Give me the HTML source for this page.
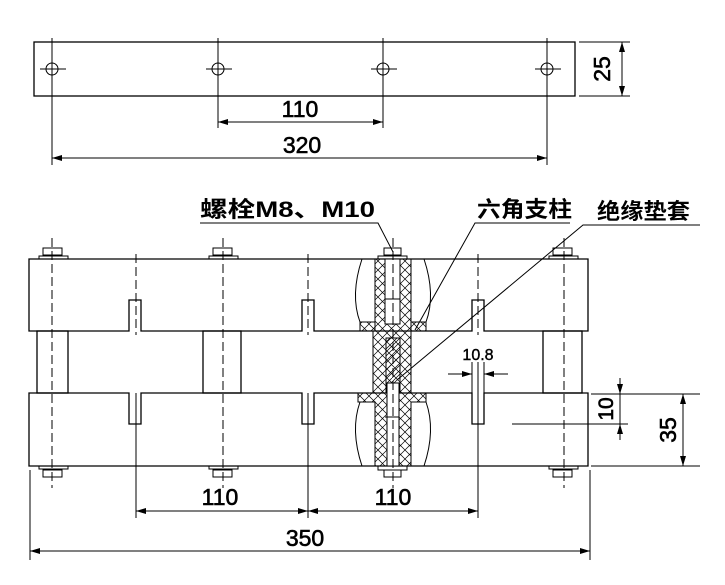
<!DOCTYPE html>
<html><head><meta charset="utf-8"><style>body{margin:0;background:#fff}svg{display:block}</style></head><body>
<svg width="725" height="585" viewBox="0 0 725 585" xmlns="http://www.w3.org/2000/svg" font-family="Liberation Sans, Noto Sans CJK SC, sans-serif">
<defs>
<pattern id="xh" width="9" height="9" patternUnits="userSpaceOnUse"><path d="M0 0L9 9M9 0L0 9" stroke="#000" stroke-width="0.7"/></pattern>
<pattern id="dh" width="7" height="7" patternUnits="userSpaceOnUse"><path d="M0 7L7 0" stroke="#000" stroke-width="0.7"/></pattern>
<marker id="a" viewBox="0 0 10 6" refX="10" refY="3" markerWidth="10" markerHeight="6" orient="auto-start-reverse" markerUnits="userSpaceOnUse"><path d="M0 0L10 3L0 6z"/></marker>
</defs>
<g stroke="#000" fill="none" stroke-width="1.3">
<rect x="34" y="42" width="541" height="54"/>
<g stroke-width="1">
<line x1="52" y1="38" x2="52" y2="165"/><line x1="218" y1="38" x2="218" y2="128"/><line x1="383" y1="38" x2="383" y2="128"/><line x1="547" y1="38" x2="547" y2="165"/>
<line x1="40" y1="69" x2="66" y2="69"/><line x1="206" y1="69" x2="232" y2="69"/><line x1="371" y1="69" x2="397" y2="69"/><line x1="535" y1="69" x2="561" y2="69"/>
<circle cx="52" cy="69" r="6"/><circle cx="218" cy="69" r="6"/><circle cx="383" cy="69" r="6"/><circle cx="547" cy="69" r="6"/>
<line x1="218" y1="122" x2="383" y2="122" marker-start="url(#a)" marker-end="url(#a)"/>
<line x1="52" y1="158" x2="547" y2="158" marker-start="url(#a)" marker-end="url(#a)"/>
<line x1="579" y1="42" x2="630" y2="42"/><line x1="579" y1="96" x2="630" y2="96"/>
<line x1="622" y1="42" x2="622" y2="96" marker-start="url(#a)" marker-end="url(#a)"/>
</g>
<path d="M29 259H588V331H484V300H472V331H314V300H302V331H141V300H129V331H29Z"/>
<path d="M29 393H129V424H141V393H302V424H314V393H472V424H484V393H588V466H29Z"/>
<rect x="37" y="331" width="31" height="62"/><rect x="203" y="331" width="38" height="62"/><rect x="543" y="331" width="39" height="62"/>
<g stroke-width="1">
<rect x="39" y="256" width="29" height="3"/><rect x="43" y="248" width="19" height="7"/>
<rect x="209" y="256" width="29" height="3"/><rect x="213" y="248" width="19" height="7"/>
<rect x="549" y="256" width="29" height="3"/><rect x="553" y="248" width="19" height="7"/>
<rect x="378" y="256" width="29" height="3"/><rect x="384" y="248" width="17" height="7"/>
<rect x="39" y="466" width="29" height="3"/><rect x="43" y="470" width="19" height="7"/>
<rect x="209" y="466" width="29" height="3"/><rect x="213" y="470" width="19" height="7"/>
<rect x="549" y="466" width="29" height="3"/><rect x="553" y="470" width="19" height="7"/>
<rect x="378" y="466" width="29" height="4"/><rect x="384" y="470" width="17" height="7"/>
</g>
<g stroke-width="1">
<path d="M362 259Q350 295 360 322" /><path d="M424 259Q436 295 426 322"/>
<path d="M362 466Q350 430 360 402"/><path d="M424 466Q436 430 426 402"/>
<path d="M360 322H375V331H360Z" fill="url(#xh)"/><path d="M411 322H426V331H411Z" fill="url(#xh)"/>
<path d="M358 393H426V402H411V466H375V402H358Z" fill="url(#xh)"/>
<rect x="375" y="259" width="36" height="72" fill="url(#xh)"/>
<rect x="373" y="331" width="38" height="62" fill="url(#xh)"/>
<rect x="386" y="338" width="14" height="55" fill="url(#dh)"/>
<rect x="385" y="259" width="15" height="65" fill="#fff"/>
<rect x="387" y="383" width="12" height="83" fill="#fff"/>
<line x1="385" y1="299" x2="400" y2="299"/><line x1="385" y1="417" x2="399" y2="417"/>
</g>
<g stroke-width="1" stroke-dasharray="9,4">
<line x1="52" y1="238" x2="52" y2="488"/><line x1="223" y1="238" x2="223" y2="488"/>
<line x1="393" y1="238" x2="393" y2="488"/><line x1="564" y1="238" x2="564" y2="488"/>
<line x1="136" y1="254" x2="136" y2="335"/><line x1="308" y1="254" x2="308" y2="335"/><line x1="478" y1="254" x2="478" y2="335"/>
</g>
<g stroke-width="1">
<line x1="136" y1="393" x2="136" y2="518"/><line x1="308" y1="393" x2="308" y2="518"/><line x1="478" y1="362" x2="478" y2="518"/>
<line x1="472" y1="362" x2="472" y2="393"/><line x1="484" y1="362" x2="484" y2="393"/>
<line x1="448" y1="374" x2="472" y2="374" marker-end="url(#a)"/><line x1="508" y1="374" x2="484" y2="374" marker-end="url(#a)"/>
<line x1="136" y1="511" x2="308" y2="511" marker-start="url(#a)" marker-end="url(#a)"/>
<line x1="308" y1="511" x2="478" y2="511" marker-start="url(#a)" marker-end="url(#a)"/>
<line x1="30" y1="470" x2="30" y2="560"/><line x1="590" y1="470" x2="590" y2="560"/>
<line x1="30" y1="551" x2="590" y2="551" marker-start="url(#a)" marker-end="url(#a)"/>
<line x1="591" y1="394" x2="700" y2="394"/><line x1="591" y1="466" x2="700" y2="466"/>
<line x1="512" y1="424" x2="628" y2="424"/>
<line x1="620" y1="378" x2="620" y2="394" marker-end="url(#a)"/><line x1="620" y1="440" x2="620" y2="424" marker-end="url(#a)"/>
<line x1="620" y1="394" x2="620" y2="424"/>
<line x1="683" y1="394" x2="683" y2="466" marker-start="url(#a)" marker-end="url(#a)"/>
<polyline points="200,223 378,223 393,252"/>
<polyline points="570,223 475,223 415,330"/>
<polyline points="700,225 583,225 397,380"/>
</g>
</g>
<g font-size="23" text-anchor="middle" fill="#000" stroke="#000" stroke-width="0.6">
<text x="300" y="117">110</text>
<text x="302" y="153">320</text>
<text x="220" y="505">110</text>
<text x="393" y="505">110</text>
<text x="305" y="546">350</text>
<text transform="translate(610,69) rotate(-90)">25</text>
<text transform="translate(676,430) rotate(-90)">35</text>
<text transform="translate(613,409) rotate(-90)" font-size="21">10</text>
<text x="478" y="360" font-size="16" stroke-width="0.4">10.8</text>
</g>
<g font-size="22" font-weight="bold" fill="#000">
<text x="200" y="217" textLength="175" lengthAdjust="spacingAndGlyphs">螺栓M8、M10</text>
<text x="477" y="217" textLength="95" lengthAdjust="spacingAndGlyphs">六角支柱</text>
<text x="597" y="219" textLength="93" lengthAdjust="spacingAndGlyphs">绝缘垫套</text>
</g>
</svg>
</body></html>
